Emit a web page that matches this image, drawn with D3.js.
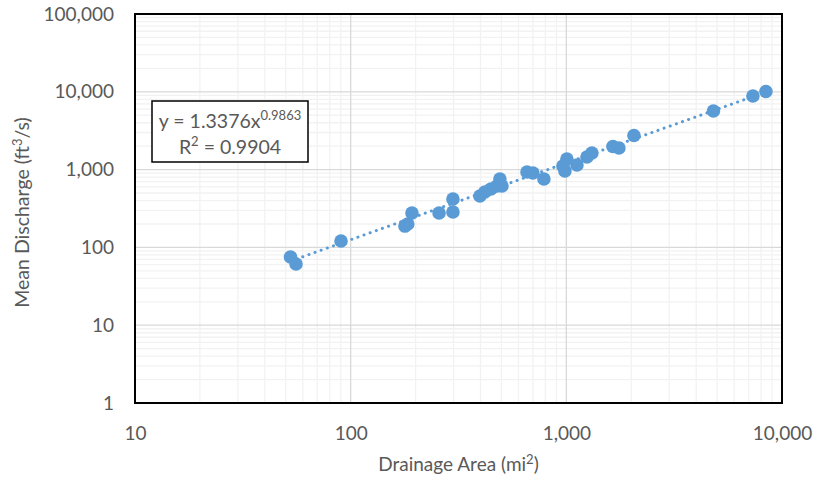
<!DOCTYPE html>
<html>
<head>
<meta charset="utf-8">
<script src="https://cdn.jsdelivr.net/npm/d3@7"></script>
<style>
  html, body { margin: 0; padding: 0; background: #fff; }
  svg text { font-family: Lato, "Open Sans", sans-serif; fill: #595959; }
</style>
</head>
<body>
<div id="chart"></div>
<script>
// Drainage area (mi²) vs mean discharge (ft³/s)
const drainageArea = [52.6, 55.8, 90.2, 178.5, 184, 192.4, 257, 298, 298, 397.6,
  419, 447, 477, 492, 503, 657, 700, 787, 964, 1006,
  985, 1120, 1246, 1314, 1644, 1753, 2058, 4809, 7331, 8424];
const meanDischarge = [75.3, 61.2, 120.9, 188, 200, 277, 277, 419, 285, 458,
  515, 563, 615, 757, 615, 931, 904, 757, 1113, 1368,
  959, 1146, 1452, 1635, 1982, 1895, 2744, 5665, 8831, 10090];

// power trendline reported in the chart
const trendCoef = 1.3376;
const trendExp = 0.9863;
const rSquared = 0.9904;

const xTicks = [10, 100, 1000, 10000];
const yTicks = [1, 10, 100, 1000, 10000, 100000];

const width = 817, height = 485;
const margin = { top: 14, right: 35, bottom: 82, left: 135 };

const svg = d3.select('#chart').append('svg')
  .attr('width', width)
  .attr('height', height);

const x = d3.scaleLog()
  .domain([10, 10000])
  .range([margin.left, width - margin.right]);

const y = d3.scaleLog()
  .domain([1, 100000])
  .range([height - margin.bottom, margin.top]);

// minor + major gridlines for each decade
function minorValues(domain) {
  const out = [];
  for (let d = domain[0]; d < domain[1]; d *= 10) {
    for (let k = 2; k <= 9; k++) out.push(d * k);
  }
  return out;
}

const grid = svg.append('g');

grid.selectAll('.xminor')
  .data(minorValues(x.domain()))
  .join('line')
  .attr('x1', d => x(d)).attr('x2', d => x(d))
  .attr('y1', y.range()[1]).attr('y2', y.range()[0])
  .attr('stroke', '#f2f2f2').attr('stroke-width', 1.3);

grid.selectAll('.yminor')
  .data(minorValues(y.domain()))
  .join('line')
  .attr('y1', d => y(d)).attr('y2', d => y(d))
  .attr('x1', x.range()[0]).attr('x2', x.range()[1])
  .attr('stroke', '#f2f2f2').attr('stroke-width', 1.3);

grid.selectAll('.xmajor')
  .data(xTicks)
  .join('line')
  .attr('x1', d => x(d)).attr('x2', d => x(d))
  .attr('y1', y.range()[1]).attr('y2', y.range()[0])
  .attr('stroke', '#d9d9d9').attr('stroke-width', 1.3);

grid.selectAll('.ymajor')
  .data(yTicks)
  .join('line')
  .attr('y1', d => y(d)).attr('y2', d => y(d))
  .attr('x1', x.range()[0]).attr('x2', x.range()[1])
  .attr('stroke', '#d9d9d9').attr('stroke-width', 1.3);

// Axes (labels only, Excel style)
const fmt = d3.format(',');

const xAxis = svg.append('g')
  .attr('transform', `translate(0,${height - margin.bottom + 20})`)
  .call(d3.axisBottom(x).tickValues(xTicks).tickFormat(fmt).tickSize(0));
xAxis.select('.domain').remove();
xAxis.selectAll('text')
  .attr('font-size', '19px')
  .attr('font-family', 'Lato, sans-serif')
  .attr('fill', '#595959');

const yAxis = svg.append('g')
  .attr('transform', `translate(${margin.left - 18},0)`)
  .call(d3.axisLeft(y).tickValues(yTicks).tickFormat(fmt).tickSize(0));
yAxis.select('.domain').remove();
yAxis.selectAll('text')
  .attr('font-size', '19px')
  .attr('font-family', 'Lato, sans-serif')
  .attr('fill', '#595959');

// Plot border
svg.append('rect')
  .attr('x', x.range()[0])
  .attr('y', y.range()[1])
  .attr('width', x.range()[1] - x.range()[0])
  .attr('height', y.range()[0] - y.range()[1])
  .attr('fill', 'none')
  .attr('stroke', '#000')
  .attr('stroke-width', 2);

// Trendline across the data range
const xMin = d3.min(drainageArea), xMax = d3.max(drainageArea);
const trendPts = d3.range(0, 101).map(i => {
  const v = Math.pow(10, Math.log10(xMin) + (Math.log10(xMax) - Math.log10(xMin)) * i / 100);
  return [v, trendCoef * Math.pow(v, trendExp)];
});

svg.append('path')
  .datum(trendPts)
  .attr('d', d3.line().x(d => x(d[0])).y(d => y(d[1])))
  .attr('fill', 'none')
  .attr('stroke', '#5b9bd5')
  .attr('stroke-width', 3)
  .attr('stroke-linecap', 'round')
  .attr('stroke-dasharray', '0.1 6.4');

// Markers
svg.append('g')
  .selectAll('circle')
  .data(drainageArea.map((a, i) => [a, meanDischarge[i]]))
  .join('circle')
  .attr('cx', d => x(d[0]))
  .attr('cy', d => y(d[1]))
  .attr('r', 6.8)
  .attr('fill', '#5b9bd5');

// Equation box
const box = svg.append('g').attr('transform', 'translate(152,101)');
box.append('rect')
  .attr('width', 156).attr('height', 61)
  .attr('fill', '#fff')
  .attr('stroke', '#000').attr('stroke-width', 1.5);

const eq = box.append('text')
  .attr('x', 78).attr('y', 27)
  .attr('text-anchor', 'middle')
  .attr('font-size', '19.5px');
eq.append('tspan').text(`y = ${trendCoef}x`);
eq.append('tspan').attr('dy', -8).attr('font-size', '13px').text(trendExp);

const r2 = box.append('text')
  .attr('x', 78).attr('y', 53)
  .attr('text-anchor', 'middle')
  .attr('font-size', '19.5px');
r2.append('tspan').text('R');
r2.append('tspan').attr('dy', -8).attr('font-size', '13px').text('2');
r2.append('tspan').attr('dy', 8).text(` = ${rSquared}`);

// Axis titles
const xt = svg.append('text')
  .attr('x', (x.range()[0] + x.range()[1]) / 2)
  .attr('y', 471)
  .attr('text-anchor', 'middle')
  .attr('font-size', '19px');
xt.append('tspan').text('Drainage Area (mi');
xt.append('tspan').attr('dy', -7).attr('font-size', '13px').text('2');
xt.append('tspan').attr('dy', 7).text(')');

const yt = svg.append('text')
  .attr('transform', `translate(29,${(y.range()[0] + y.range()[1]) / 2 + 4}) rotate(-90)`)
  .attr('text-anchor', 'middle')
  .attr('font-size', '19.5px');
yt.append('tspan').text('Mean Discharge (ft');
yt.append('tspan').attr('dy', -7).attr('font-size', '13px').text('3');
yt.append('tspan').attr('dy', 7).text('/s)');
</script>
</body>
</html>
